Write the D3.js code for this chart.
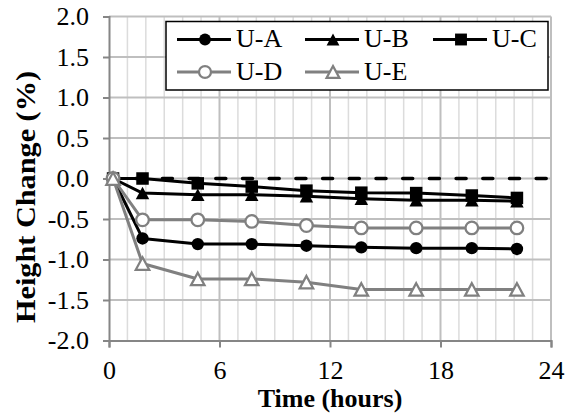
<!DOCTYPE html>
<html>
<head>
<meta charset="utf-8">
<script src="https://cdn.jsdelivr.net/npm/d3@7/dist/d3.min.js"></script>
<style>
  html, body { margin: 0; padding: 0; background: #fff; }
  svg { display: block; }
  text { font-family: "Liberation Serif", "Times New Roman", serif; fill: #000; }
</style>
</head>
<body>
<svg id="chart" width="566" height="415"></svg>
<script>
// ---- data ----
const timeHours = [0.22, 1.82, 4.82, 7.75, 10.72, 13.7, 16.68, 19.7, 22.15];
const seriesNames = ["U-A", "U-B", "U-C", "U-D", "U-E"];
const valuesUA = [0, -0.74, -0.81, -0.81, -0.83, -0.85, -0.86, -0.86, -0.87];
const valuesUB = [0, -0.18, -0.20, -0.20, -0.22, -0.25, -0.27, -0.27, -0.28];
const valuesUC = [0, 0.0, -0.06, -0.10, -0.15, -0.175, -0.18, -0.21, -0.24];
const valuesUD = [0, -0.51, -0.51, -0.53, -0.58, -0.61, -0.61, -0.61, -0.61];
const valuesUE = [0, -1.05, -1.24, -1.24, -1.28, -1.37, -1.37, -1.37, -1.37];
const xTicks = [0, 6, 12, 18, 24];
const xMinorTicks = d3.range(0, 25, 1);
const yTicks = [-2.0, -1.5, -1.0, -0.5, 0.0, 0.5, 1.0, 1.5, 2.0];
const xTitle = "Time (hours)";
const yTitle = "Height Change (%)";

// ---- styles ----
const styles = {
  "U-A": { color: "#000000", marker: "circle", fill: "#000000" },
  "U-B": { color: "#000000", marker: "triangle", fill: "#000000" },
  "U-C": { color: "#000000", marker: "square", fill: "#000000" },
  "U-D": { color: "#808080", marker: "circle", fill: "#ffffff" },
  "U-E": { color: "#808080", marker: "triangle", fill: "#ffffff" }
};
const seriesValues = [valuesUA, valuesUB, valuesUC, valuesUD, valuesUE];
const series = seriesNames.map((name, i) => ({
  name,
  points: timeHours.map((t, j) => ({ t, v: seriesValues[i][j] }))
}));

const svg = d3.select("#chart");
const x = d3.scaleLinear().domain([0, 24]).range([109, 551]);
const y = d3.scaleLinear().domain([-2, 2]).range([340.5, 16.5]);

// minor vertical grid
svg.append("g").selectAll("line").data(xMinorTicks.filter(d => d % 6 !== 0)).join("line")
  .attr("x1", d => x(d)).attr("x2", d => x(d))
  .attr("y1", y(2)).attr("y2", y(-2))
  .attr("stroke", "#dcdcdc").attr("stroke-width", 1.5);
// major vertical grid
svg.append("g").selectAll("line").data(xTicks.filter(d => d > 0)).join("line")
  .attr("x1", d => x(d)).attr("x2", d => x(d))
  .attr("y1", y(2)).attr("y2", y(-2))
  .attr("stroke", "#bfbfbf").attr("stroke-width", 2);
// horizontal grid
svg.append("g").selectAll("line").data(yTicks.filter(d => d > -2)).join("line")
  .attr("x1", x(0)).attr("x2", x(24))
  .attr("y1", d => y(d)).attr("y2", d => y(d))
  .attr("stroke", "#bfbfbf").attr("stroke-width", 2);

// axes
const yAxis = d3.axisLeft(y).tickValues(yTicks).tickFormat(d3.format(".1f")).tickSize(6).tickPadding(14);
const gy = svg.append("g").attr("transform", `translate(${x(0)},0)`).call(yAxis);
gy.select(".domain").attr("stroke", "#868686").attr("stroke-width", 2);
gy.selectAll(".tick line").attr("stroke", "#868686").attr("stroke-width", 2);
gy.selectAll(".tick text").attr("font-size", 26).attr("font-family", "Liberation Serif").attr("fill", "#000")
  .text(d => d3.format(".1f")(d).replace("−", "-"));

const xAxis = d3.axisBottom(x).tickValues(xTicks).tickFormat(d3.format("d")).tickSize(7).tickPadding(13);
const gx = svg.append("g").attr("transform", `translate(0,${y(-2)})`).call(xAxis);
gx.select(".domain").attr("stroke", "#868686").attr("stroke-width", 2);
gx.selectAll(".tick line").attr("stroke", "#868686").attr("stroke-width", 2);
gx.selectAll(".tick text").attr("font-size", 26).attr("font-family", "Liberation Serif").attr("fill", "#000");

// titles
svg.append("text").attr("x", 330).attr("y", 407).attr("text-anchor", "middle")
  .attr("font-size", 26).attr("font-weight", "bold").text(xTitle);
svg.append("text").attr("transform", "translate(35,197) rotate(-90)").attr("text-anchor", "middle")
  .attr("font-size", 27).attr("font-weight", "bold")
  .attr("textLength", 252).attr("lengthAdjust", "spacingAndGlyphs").text(yTitle);

// zero dashed line
svg.append("line").attr("x1", x(0)).attr("x2", x(24)).attr("y1", y(0)).attr("y2", y(0))
  .attr("stroke", "#000").attr("stroke-width", 3.5).attr("stroke-dasharray", "10 16.7")
  .attr("stroke-linecap", "round");

// marker drawing
function drawMarker(g, type, cx, cy, st, scale = 1) {
  if (type === "circle") {
    if (st.fill === "#ffffff") {
      g.append("circle").attr("cx", cx).attr("cy", cy).attr("r", 6.3 * scale)
        .attr("fill", "#fff").attr("stroke", st.color).attr("stroke-width", 2.25);
    } else {
      g.append("circle").attr("cx", cx).attr("cy", cy).attr("r", 6.2 * scale).attr("fill", st.color);
    }
  } else if (type === "square") {
    const s = 12.5 * scale;
    g.append("rect").attr("x", cx - s / 2).attr("y", cy - s / 2).attr("width", s).attr("height", s)
      .attr("fill", st.color);
  } else if (type === "triangle") {
    const w = 13.5 * scale, h = 12.5 * scale;
    const p = `M${cx},${cy - h / 2}L${cx + w / 2},${cy + h / 2}L${cx - w / 2},${cy + h / 2}Z`;
    if (st.fill === "#ffffff") {
      g.append("path").attr("d", p).attr("fill", "#fff").attr("stroke", st.color).attr("stroke-width", 2.25)
        .attr("stroke-linejoin", "miter");
    } else {
      g.append("path").attr("d", p).attr("fill", st.color);
    }
  }
}

const line = d3.line().x(d => x(d.t)).y(d => y(d.v));
series.forEach(s => {
  const st = styles[s.name];
  const g = svg.append("g");
  g.append("path").datum(s.points).attr("d", line).attr("fill", "none")
    .attr("stroke", st.color).attr("stroke-width", 3).attr("stroke-linejoin", "round");
  s.points.forEach(p => drawMarker(g, st.marker, x(p.t), y(p.v), st));
});

// legend
const lg = svg.append("g");
lg.append("rect").attr("x", 166).attr("y", 21.5).attr("width", 382).attr("height", 68.5)
  .attr("fill", "#fff").attr("stroke", "#000").attr("stroke-width", 1.5);
const legendPos = [
  { lx: 177, ty: 39.5 }, { lx: 305, ty: 39.5 }, { lx: 433, ty: 39.5 },
  { lx: 177, ty: 72 }, { lx: 305, ty: 72 }
];
seriesNames.forEach((name, i) => {
  const st = styles[name];
  const p = legendPos[i];
  lg.append("line").attr("x1", p.lx).attr("x2", p.lx + 54).attr("y1", p.ty).attr("y2", p.ty)
    .attr("stroke", st.color).attr("stroke-width", 3);
  drawMarker(lg, st.marker, p.lx + 28, p.ty, st, 0.95);
  lg.append("text").attr("x", p.lx + 59).attr("y", p.ty + 7.5).attr("font-size", 26).text(name);
});
</script>
</body>
</html>
